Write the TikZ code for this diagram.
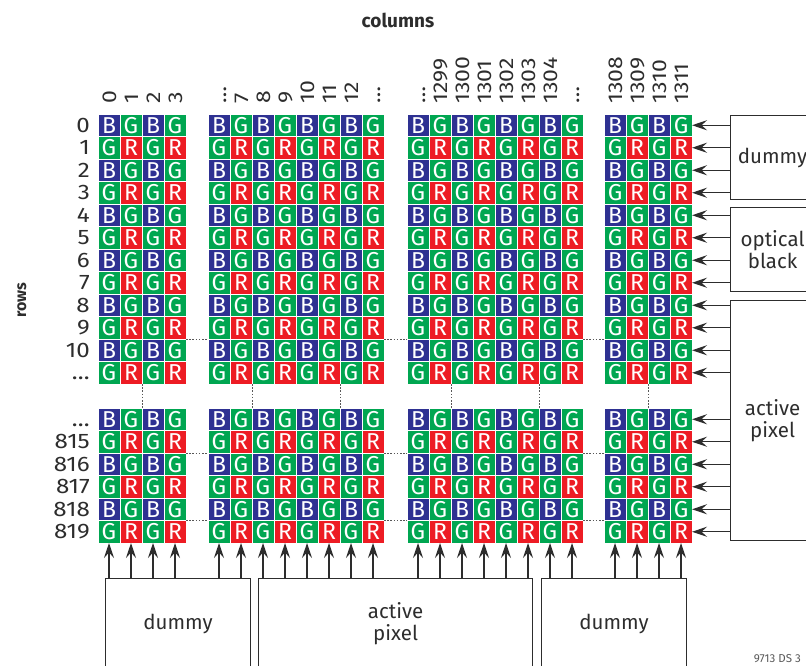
\documentclass[tikz,border=0pt]{standalone}
\usepackage{fontspec}
\setmainfont{Fira Sans}
\newfontfamily\labfont[FakeStretch=1.15]{Fira Sans}
\usetikzlibrary{arrows.meta}
\definecolor{bblue}{RGB}{46,49,146}
\definecolor{ggreen}{RGB}{0,166,81}
\definecolor{rred}{RGB}{237,28,36}
\definecolor{ink}{RGB}{45,45,45}
\begin{document}
\begin{tikzpicture}[x=1pt,y=-1pt,
  cell/.style={minimum width=22pt,minimum height=22.5pt,inner sep=0pt,outer sep=0pt,
    draw=white,line width=0.9pt,text=white,anchor=north west,
    font=\fontsize{23}{23}\selectfont},
  collab/.style={rotate=90,anchor=west,inner sep=0pt,text=ink,
    text height=14pt,text depth=0pt,font=\labfont\fontsize{20}{20}\selectfont},
  rowlab/.style={anchor=east,inner sep=0pt,text=ink,
    text height=14pt,text depth=0pt,font=\labfont\fontsize{21}{21}\selectfont},
  box/.style={draw=ink,line width=1.2pt,inner sep=0pt,anchor=north west,
    align=center,text=ink,font=\fontsize{20.5}{22}\selectfont},
  arr/.style={-{Stealth[length=15pt,width=10pt,inset=5.5pt]},line width=1.2pt,draw=ink},
  dotl/.style={draw=ink!80,line width=0.9pt,dash pattern=on 1.6pt off 1.6pt}]
\useasboundingbox (0,0) rectangle (806,666);
\clip (0,0) rectangle (806,666);

% ---- pixel cells ----
\foreach \bn/\bx/\nc in {a/98/3,b/208/7,c/407/7,d/604/3}{
  \foreach \r in {0,...,11}{
    \foreach \c in {0,...,\nc}{
      \pgfmathtruncatemacro\k{2*mod(\r,2)+mod(\c,2)}
      \ifcase\k\def\L{B}\def\C{bblue}\or\def\L{G}\def\C{ggreen}\or\def\L{G}\def\C{ggreen}\else\def\L{R}\def\C{rred}\fi
      \node[cell,fill=\C] (\bn u\r-\c) at (\bx+22*\c,114+22.5*\r) {\L};
    }
  }
  \foreach \r in {0,...,5}{
    \foreach \c in {0,...,\nc}{
      \pgfmathtruncatemacro\k{2*mod(\r,2)+mod(\c,2)}
      \ifcase\k\def\L{B}\def\C{bblue}\or\def\L{G}\def\C{ggreen}\or\def\L{G}\def\C{ggreen}\else\def\L{R}\def\C{rred}\fi
      \node[cell,fill=\C] (\bn l\r-\c) at (\bx+22*\c,408+22.5*\r) {\L};
    }
  }
}

% ---- column labels ----
\foreach \c/\t in {0/0,1/1,2/2,3/3}
  \node[collab] (ca\c) at ([yshift=10pt]au0-\c.north) {\t};
\foreach \c/\t in {0/…,1/7,2/8,3/9,4/10,5/11,6/12,7/…}
  \node[collab] (cb\c) at ([yshift=10pt]bu0-\c.north) {\t};
\foreach \c/\t in {0/…,1/1299,2/1300,3/1301,4/1302,5/1303,6/1304,7/…}
  \node[collab] (cc\c) at ([yshift=10pt]cu0-\c.north) {\t};
\foreach \c/\t in {0/1308,1/1309,2/1310,3/1311}
  \node[collab] (cd\c) at ([yshift=10pt]du0-\c.north) {\t};

% ---- row labels ----
\foreach \r/\t in {0/0,1/1,2/2,3/3,4/4,5/5,6/6,7/7,8/8,9/9,10/10,11/…}
  \node[rowlab] (ru\r) at ([xshift=-8pt]au\r-0.west) {\t};
\foreach \r/\t in {0/…,1/815,2/816,3/817,4/818,5/819}
  \node[rowlab] (rl\r) at ([xshift=-8pt]al\r-0.west) {\t};

% ---- dotted continuation lines ----
\foreach \rr in {u9,l1,l4}{
  \draw[dotl] (a\rr-3.south east) -- (b\rr-0.south west);
  \draw[dotl] (b\rr-7.south east) -- (c\rr-0.south west);
  \draw[dotl] (c\rr-7.south east) -- (d\rr-0.south west);
}
\foreach \bk/\c in {a/1,b/1,b/5,c/1,c/5,d/1}
  \draw[dotl] (\bk u11-\c.south east) -- (\bk l0-\c.north east);

% ---- right boxes ----
\node[box,minimum width=84pt,minimum height=84pt] (rdum) at (730,115) {dummy};
\node[box,minimum width=84pt,minimum height=84pt] (ropt) at (730,207) {optical\\black};
\node[box,minimum width=84pt,minimum height=240pt] (ract) at (730,300) {active\\pixel};
\foreach \r in {0,...,3} \draw[arr] (rdum.west |- du\r-3.east) -- (du\r-3.east);
\foreach \r in {4,...,7} \draw[arr] (ropt.west |- du\r-3.east) -- (du\r-3.east);
\foreach \r in {8,...,11} \draw[arr] (ract.west |- du\r-3.east) -- (du\r-3.east);
\foreach \r in {0,...,5} \draw[arr] (ract.west |- dl\r-3.east) -- (dl\r-3.east);

% ---- bottom boxes ----
\node[box,minimum width=145pt,minimum height=90pt] (bdumA) at (105,578) {dummy};
\node[box,minimum width=274pt,minimum height=90pt] (bact) at (258,578) {active\\pixel};
\node[box,minimum width=145pt,minimum height=90pt] (bdumC) at (541,578) {dummy};
\foreach \bk/\c in {a/0,a/1,a/2,a/3,b/0,b/1}
  \draw[arr] (bdumA.north -| \bk l5-\c.south) -- (\bk l5-\c.south);
\foreach \bk/\c in {b/2,b/3,b/4,b/5,b/6,b/7,c/0,c/1,c/2,c/3,c/4,c/5}
  \draw[arr] (bact.north -| \bk l5-\c.south) -- (\bk l5-\c.south);
\foreach \bk/\c in {c/6,c/7,d/0,d/1,d/2,d/3}
  \draw[arr] (bdumC.north -| \bk l5-\c.south) -- (\bk l5-\c.south);

% ---- titles ----
\node[text=ink,font=\bfseries\fontsize{19}{19}\selectfont] (coltitle) at (398,20) {columns};
\node[rotate=90,text=ink,font=\bfseries\fontsize{16}{16}\selectfont] (rowtitle) at (22,300) {rows};
\node[anchor=east,inner sep=0pt,text=black!65,font=\fontsize{11.5}{11.5}\selectfont] (code) at (801,659) {9713 DS 3};
\end{tikzpicture}
\end{document}
